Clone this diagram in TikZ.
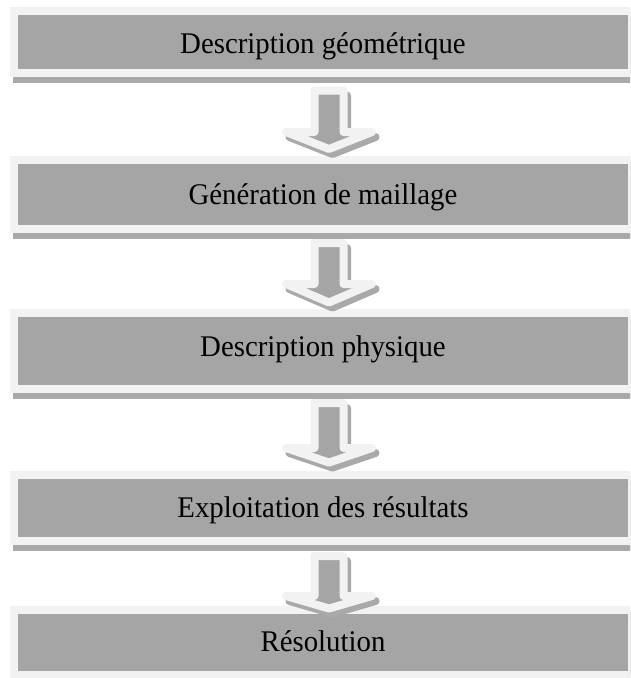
\documentclass[tikz,border=0pt]{standalone}
\usepackage{fontspec}
\setmainfont[FakeStretch=0.96]{Liberation Serif}
\usetikzlibrary{calc}
\definecolor{boxgray}{HTML}{A5A5A5}
\definecolor{rimgray}{HTML}{F2F2F2}
\definecolor{shadowgray}{HTML}{A9A9A9}
\tikzset{
  x=1pt, y=-1pt,
  stepbox/.style={rectangle, fill=boxgray, draw=rimgray, line width=8pt,
    minimum width=618pt, inner sep=0pt, outer sep=0pt,
    font=\fontsize{30}{35}\selectfont, text depth=0pt,
    preaction={fill=shadowgray, draw=shadowgray, line width=8pt,
      transform canvas={shift={(3pt,-6pt)}}}},
  baseoff/.style={text height=#1},
  flowarrow/.style={fill=boxgray, draw=rimgray, line width=8pt, line join=round,
    preaction={fill=shadowgray, draw=shadowgray, line width=8pt, line join=round,
      transform canvas={shift={(3.5pt,-5pt)}}}}
}
% #1 source node, #2 target node, #3 gap below source, #4 head length, #5 gap above target
\newcommand\blockarrow[5]{%
  \draw[flowarrow]
    ($(#1.south -| ax)+(-14.5,#3)$) -- ($(#1.south -| ax)+(14.5,#3)$)
    -- ($(#2.north -| ax)+(14.5,-#5-#4)$) -- ($(#2.north -| ax)+(43,-#5-#4)$)
    -- ($(#2.north -| ax)+(0,-#5)$)
    -- ($(#2.north -| ax)+(-43,-#5-#4)$) -- ($(#2.north -| ax)+(-14.5,-#5-#4)$)
    -- cycle;}
\begin{document}
\begin{tikzpicture}
\useasboundingbox (0,0) rectangle (630,678);
\clip (0,0) rectangle (630,678);
\fill[white] (0,0) rectangle (630,678);
\coordinate (ax) at (329,0);
\node[stepbox, minimum height=62pt, baseoff=22pt] (b1) at (323,42) {Description géométrique};
\node[stepbox, minimum height=68.5pt, baseoff=20pt] (b2) at (323,194.25) {Génération de maillage};
\node[stepbox, minimum height=76pt, baseoff=10pt] (b3) at (323,351) {Description physique};
\node[stepbox, minimum height=66pt, baseoff=18pt] (b4) at (323,508) {Exploitation des résultats};
\node[stepbox, minimum height=65pt, baseoff=17pt] (b5) at (323,642.5) {Résolution};
\blockarrow{b1}{b2}{17.5}{17}{11}
\blockarrow{b2}{b3}{14.5}{18.5}{10.5}
\blockarrow{b3}{b4}{14}{14.5}{12.5}
\blockarrow{b4}{b5}{15}{12.5}{1.5}
\end{tikzpicture}
\end{document}
